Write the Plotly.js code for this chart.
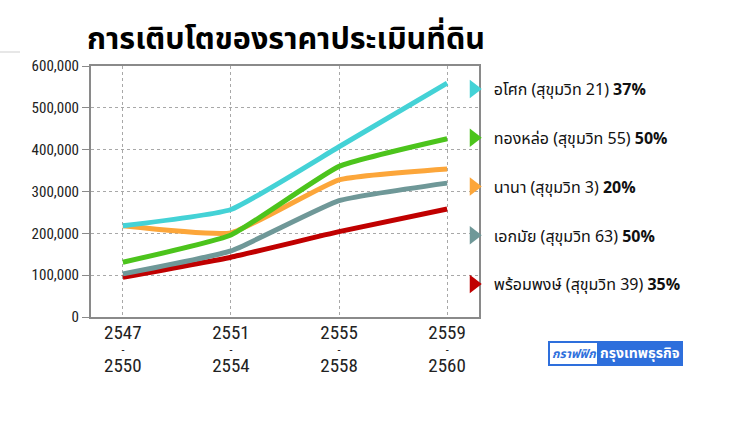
<!DOCTYPE html>
<html>
<head>
<meta charset="utf-8">
<script src="https://cdn.plot.ly/plotly-3.0.1.min.js"></script>
<style>html,body{margin:0;padding:0;background:#fff;}#chart{width:750px;height:422px;}</style>
</head>
<body>
<div id="chart"></div>
<script>
// ---- data ----
const periodStart = [2547, 2551, 2555, 2559];
const periodEnd   = [2550, 2554, 2558, 2560];
const seriesNames = [
  "พร้อมพงษ์ (สุขุมวิท 39)",
  "เอกมัย (สุขุมวิท 63)",
  "นานา (สุขุมวิท 3)",
  "ทองหล่อ (สุขุมวิท 55)",
  "อโศก (สุขุมวิท 21)"
];
const seriesGrowth = ["35%", "50%", "20%", "50%", "37%"];
const phromphong = [95000, 143000, 204000, 258000];
const ekkamai    = [103000, 158000, 278000, 320000];
const nana       = [218000, 201000, 328000, 354000];
const thonglor   = [131000, 196000, 360000, 426000];
const asoke      = [218000, 257000, 407000, 559000];
const seriesValues = [phromphong, ekkamai, nana, thonglor, asoke];
const seriesColors = ["#c00000", "#6f9898", "#fca63a", "#4cc41c", "#44d2d6"];
const yTicks = [0, 100000, 200000, 300000, 400000, 500000, 600000];
const titleText = "การเติบโตของราคาประเมินที่ดิน";

const numFont = "'Liberation Sans Narrow', 'Roboto Condensed', 'Arial Narrow', 'Liberation Sans', sans-serif";
const thaiFont = "'Noto Sans Thai', 'Noto Sans', 'Liberation Sans Narrow', sans-serif";

const traces = [];
seriesValues.forEach((vals, i) => {
  traces.push({
    x: periodStart, y: vals, type: 'scatter', mode: 'lines',
    line: {color: seriesColors[i], width: 5, shape: 'spline', smoothing: 0.4},
    showlegend: false, hoverinfo: 'skip'
  });
});
// legend entries (top to bottom: asoke first)
for (let i = seriesValues.length - 1; i >= 0; i--) {
  traces.push({
    x: [null], y: [null], type: 'scatter', mode: 'markers',
    xaxis: i % 2 === 0 ? 'x2' : 'x3',
    marker: {symbol: 'triangle-right', size: 19, color: seriesColors[i]},
    name: seriesNames[i] + " <b>" + seriesGrowth[i] + "</b>",
    legendgroup: 'g' + i, showlegend: true
  });
}

const xRange = [2545.82, 2560.18];
const layout = {
  width: 750, height: 422,
  margin: {l: 91, r: 271, t: 66, b: 105},
  paper_bgcolor: '#ffffff', plot_bgcolor: '#ffffff',
  showlegend: true,
  legend: {
    x: 0.935, xanchor: 'left', y: 1 - 6 / 251, yanchor: 'top',
    font: {family: thaiFont, size: 16, color: '#111'},
    tracegroupgap: 25, traceorder: 'grouped',
    bgcolor: 'rgba(0,0,0,0)', itemwidth: 30
  },
  title: {
    text: '<b>' + titleText + '</b>',
    x: 286 / 750, xanchor: 'center', y: 1 - 38 / 422, yanchor: 'middle',
    font: {family: thaiFont, size: 30.5, color: '#000'}
  },
  xaxis: {
    type: 'linear', range: xRange, tickmode: 'array',
    tickvals: periodStart, ticktext: periodStart.map(String),
    showgrid: true, gridcolor: '#a8a8a8', griddash: 'dot', gridwidth: 1,
    showline: true, linecolor: '#8a8a8a', linewidth: 2, mirror: true,
    ticks: '', ticklabelstandoff: -3,
    tickfont: {family: numFont, size: 19, color: '#222'},
    zeroline: false, fixedrange: true
  },
  xaxis2: {
    overlaying: 'x', anchor: 'y', side: 'bottom', type: 'linear', range: xRange,
    tickmode: 'array', tickvals: periodStart, ticktext: periodEnd.map(String),
    showgrid: false, showline: false, ticks: '', ticklabelstandoff: 35,
    tickfont: {family: numFont, size: 19, color: '#222'}, zeroline: false
  },
  xaxis3: {
    overlaying: 'x', anchor: 'y', side: 'bottom', type: 'linear', range: xRange,
    tickmode: 'array', tickvals: periodStart, ticktext: periodStart.map(() => '-'),
    showgrid: false, showline: false, ticks: '', ticklabelstandoff: 24,
    tickfont: {family: numFont, size: 12, color: '#222'}, zeroline: false
  },
  yaxis: {
    range: [0, 600000], tickmode: 'array', tickvals: yTicks,
    tickformat: ',d',
    showgrid: true, gridcolor: '#a8a8a8', griddash: 'dot', gridwidth: 1,
    showline: true, linecolor: '#8a8a8a', linewidth: 2, mirror: true,
    ticks: 'outside', ticklen: 7, tickcolor: '#8a8a8a', tickwidth: 1,
    tickfont: {family: numFont, size: 15, color: '#222'},
    zeroline: false, fixedrange: true
  },
  shapes: [
    {type: 'rect', xref: 'paper', yref: 'paper',
     x0: (548 - 91) / 388, x1: (683 - 91) / 388,
     y0: (317 - 366) / 251, y1: (317 - 341) / 251,
     fillcolor: '#2e6fdc', line: {width: 0}},
    {type: 'rect', xref: 'paper', yref: 'paper',
     x0: (550 - 91) / 388, x1: (597 - 91) / 388,
     y0: (317 - 364) / 251, y1: (317 - 343) / 251,
     fillcolor: '#ffffff', line: {width: 0}},
    {type: 'line', xref: 'paper', yref: 'paper',
     x0: -91 / 388, x1: -71 / 388, y0: (317 - 52) / 251, y1: (317 - 52) / 251,
     line: {color: '#cfcfcf', width: 1}}
  ],
  annotations: [
    {xref: 'paper', yref: 'paper', x: (573.5 - 91) / 388, y: (317 - 353.5) / 251,
     text: '<i><b>กราฟฟิก</b></i>', showarrow: false, xanchor: 'center', yanchor: 'middle',
     font: {family: thaiFont, size: 12, color: '#2e6fdc'}},
    {xref: 'paper', yref: 'paper', x: (640 - 91) / 388, y: (317 - 353.5) / 251,
     text: '<b>กรุงเทพธุรกิจ</b>', showarrow: false, xanchor: 'center', yanchor: 'middle',
     font: {family: thaiFont, size: 14, color: '#ffffff'}}
  ]
};

Plotly.newPlot('chart', traces, layout, {displayModeBar: false, staticPlot: true});
</script>
</body>
</html>
